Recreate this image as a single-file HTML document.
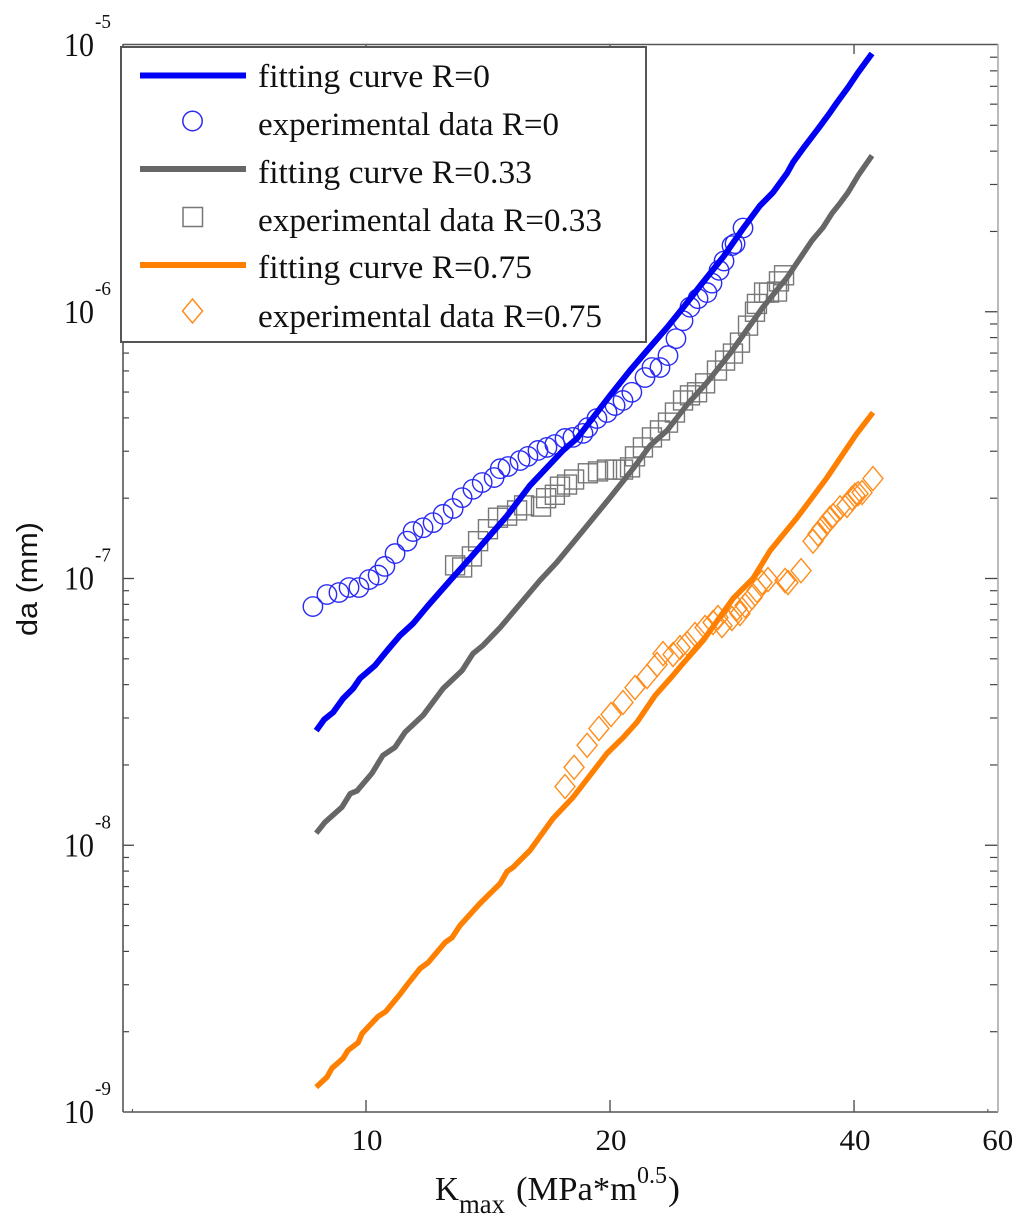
<!DOCTYPE html>
<html lang="en">
<head>
<meta charset="utf-8">
<title>Crack growth rate versus Kmax</title>
<style>
html,body{margin:0;padding:0;background:#fff;width:1024px;height:1223px;overflow:hidden}
svg{display:block}
text{font-family:"Liberation Serif",serif;fill:#111}
</style>
</head>
<body>
<svg id="chart" xmlns="http://www.w3.org/2000/svg" width="1024" height="1223" viewBox="0 0 1024 1223">
  <rect x="0" y="0" width="1024" height="1223" fill="#fff"/>
  <g id="ticks"></g>
  <g id="frame">
    <line x1="123" y1="44.5" x2="998" y2="44.5" stroke="#555" stroke-width="1.6"/>
    <line x1="123" y1="44" x2="123" y2="1112" stroke="#555" stroke-width="1.6"/>
    <line x1="123" y1="1112" x2="998" y2="1112" stroke="#555" stroke-width="1.6"/>
    <line x1="998" y1="44" x2="998" y2="1112" stroke="#aaa" stroke-width="1.6"/>
  </g>
  <g id="tick-labels"></g>
  <g id="series"></g>

  <text transform="translate(37,636) rotate(-90)" style="font-family:'Liberation Sans',sans-serif" font-size="29" textLength="114" lengthAdjust="spacingAndGlyphs">da (mm)</text>

  <g>
    <text x="435" y="1200" font-size="34" textLength="24" lengthAdjust="spacingAndGlyphs">K</text>
    <text x="459" y="1213" font-size="27" textLength="46" lengthAdjust="spacingAndGlyphs">max</text>
    <text x="516" y="1200" font-size="34" textLength="121" lengthAdjust="spacingAndGlyphs">(MPa*m</text>
    <text x="637" y="1183" font-size="24" textLength="30" lengthAdjust="spacingAndGlyphs">0.5</text>
    <text x="668" y="1200" font-size="34" textLength="12" lengthAdjust="spacingAndGlyphs">)</text>
  </g>

  <g>
    <rect x="121" y="47" width="525" height="295" fill="#fff" stroke="#555" stroke-width="2"/>
    <line x1="140" y1="75.5" x2="246" y2="75.5" stroke="#0000f5" stroke-width="6"/>
    <text x="258" y="87" font-size="33" textLength="232" lengthAdjust="spacingAndGlyphs">fitting curve R=0</text>
    <circle cx="192.5" cy="121" r="9.7" fill="none" stroke="#2a2af5" stroke-width="1.5"/>
    <text x="258" y="135" font-size="33" textLength="301" lengthAdjust="spacingAndGlyphs">experimental data R=0</text>
    <line x1="140" y1="169" x2="246" y2="169" stroke="#666" stroke-width="6"/>
    <text x="258" y="183" font-size="33" textLength="274" lengthAdjust="spacingAndGlyphs">fitting curve R=0.33</text>
    <rect x="183" y="207.5" width="19.5" height="19" fill="none" stroke="#777" stroke-width="1.5"/>
    <text x="258" y="231" font-size="33" textLength="344" lengthAdjust="spacingAndGlyphs">experimental data R=0.33</text>
    <line x1="140" y1="265" x2="246" y2="265" stroke="#ff8000" stroke-width="6"/>
    <text x="258" y="278" font-size="33" textLength="274" lengthAdjust="spacingAndGlyphs">fitting curve R=0.75</text>
    <polygon points="192.5,299 202.5,311 192.5,323 182.5,311" fill="none" stroke="#ff8c1a" stroke-width="1.5"/>
    <text x="258" y="327" font-size="33" textLength="344" lengthAdjust="spacingAndGlyphs">experimental data R=0.75</text>
  </g>
</svg>
<script>
// ---- Axis tick data ----
const xMajorTicks = [10, 20, 40];
const xLabelValues = [10, 20, 40, 60];
const xSmallTicks = [5.15, 58.5];
const yDecadeExponents = [-5, -6, -7, -8, -9];
const yMinorMantissas = [2, 3, 4, 5, 6, 7, 8, 9];

// ---- Fitting curves ----
const fitR0K  = [8.68, 8.88, 9.11, 9.37, 9.64, 9.83, 10.26, 10.62, 11.01, 11.43, 11.93, 12.70, 13.44, 14.22, 14.93, 15.93, 17.50, 18.21, 19.06, 20.00, 21.17, 22.22, 23.52, 24.89, 25.83, 27.57, 29.18, 30.62, 31.78, 33.06, 33.63, 34.60, 36.21, 37.36, 38.11, 39.32, 40.46, 42.09];
const fitR0Da = [2.69e-8, 2.96e-8, 3.15e-8, 3.55e-8, 3.87e-8, 4.22e-8, 4.72e-8, 5.37e-8, 6.11e-8, 6.78e-8, 7.92e-8, 9.83e-8, 1.19e-7, 1.45e-7, 1.72e-7, 2.23e-7, 3.02e-7, 3.35e-7, 4.01e-7, 4.85e-7, 6.02e-7, 7.16e-7, 8.73e-7, 1.08e-6, 1.25e-6, 1.60e-6, 2.05e-6, 2.50e-6, 2.80e-6, 3.30e-6, 3.63e-6, 4.09e-6, 4.90e-6, 5.58e-6, 6.09e-6, 6.93e-6, 7.89e-6, 9.29e-6];
const fitR033K  = [8.68, 8.90, 9.34, 9.56, 9.75, 10.17, 10.49, 10.86, 11.17, 11.76, 12.06, 12.45, 13.14, 13.55, 13.94, 14.64, 15.62, 16.39, 17.20, 18.52, 20.00, 21.35, 22.41, 23.52, 24.96, 26.34, 28.12, 30.88, 33.06, 35.50, 36.63, 37.57, 38.44, 39.32, 40.46, 42.09];
const fitR033Da = [1.11e-8, 1.22e-8, 1.39e-8, 1.56e-8, 1.60e-8, 1.86e-8, 2.17e-8, 2.33e-8, 2.65e-8, 3.07e-8, 3.40e-8, 3.87e-8, 4.52e-8, 5.23e-8, 5.61e-8, 6.55e-8, 8.27e-8, 9.83e-8, 1.15e-7, 1.51e-7, 2.01e-7, 2.58e-7, 3.15e-7, 3.59e-7, 4.53e-7, 5.43e-7, 6.97e-7, 1.04e-6, 1.34e-6, 1.85e-6, 2.07e-6, 2.34e-6, 2.55e-6, 2.80e-6, 3.24e-6, 3.85e-6];
const fitR075K  = [8.68, 8.95, 9.08, 9.37, 9.50, 9.78, 9.89, 10.35, 10.58, 11.01, 11.24, 11.66, 11.93, 12.52, 12.77, 13.06, 13.82, 14.64, 14.93, 15.18, 15.93, 17.01, 18.00, 19.83, 20.75, 21.59, 22.73, 23.85, 24.61, 26.05, 28.36, 30.02, 31.51, 34.02, 35.30, 37.04, 38.65, 40.23, 42.21];
const fitR075Da = [1.24e-9, 1.35e-9, 1.46e-9, 1.59e-9, 1.70e-9, 1.82e-9, 1.97e-9, 2.28e-9, 2.38e-9, 2.76e-9, 3.00e-9, 3.45e-9, 3.63e-9, 4.32e-9, 4.51e-9, 5.00e-9, 6.05e-9, 7.19e-9, 7.97e-9, 8.25e-9, 9.56e-9, 1.26e-8, 1.51e-8, 2.21e-8, 2.53e-8, 2.89e-8, 3.64e-8, 4.29e-8, 4.80e-8, 5.85e-8, 8.41e-8, 1.00e-7, 1.27e-7, 1.69e-7, 1.96e-7, 2.39e-7, 2.89e-7, 3.46e-7, 4.19e-7];

// ---- Experimental data ----
const expR0K  = [8.60, 8.95, 9.26, 9.53, 9.80, 10.09, 10.35, 10.55, 10.86, 11.24, 11.43, 11.76, 12.10, 12.45, 12.81, 13.14, 13.55, 13.91, 14.39, 14.64, 14.97, 15.49, 15.84, 16.30, 16.72, 17.10, 17.60, 18.00, 18.52, 18.78, 19.27, 19.83, 20.29, 20.75, 21.28, 22.09, 22.53, 23.05, 23.58, 24.12, 24.61, 25.10, 25.68, 26.34, 26.72, 27.26, 27.65, 28.28, 28.53, 29.18];
const expR0Da = [7.85e-8, 8.71e-8, 8.86e-8, 9.25e-8, 9.25e-8, 9.91e-8, 1.03e-7, 1.11e-7, 1.24e-7, 1.38e-7, 1.50e-7, 1.55e-7, 1.62e-7, 1.74e-7, 1.83e-7, 2.01e-7, 2.16e-7, 2.29e-7, 2.39e-7, 2.58e-7, 2.63e-7, 2.77e-7, 2.87e-7, 3.02e-7, 3.10e-7, 3.18e-7, 3.35e-7, 3.38e-7, 3.50e-7, 3.68e-7, 3.98e-7, 4.19e-7, 4.45e-7, 4.65e-7, 4.99e-7, 5.67e-7, 6.18e-7, 6.18e-7, 6.85e-7, 7.93e-7, 9.25e-7, 1.04e-6, 1.12e-6, 1.18e-6, 1.28e-6, 1.43e-6, 1.55e-6, 1.77e-6, 1.80e-6, 2.06e-6];
const expR033K  = [12.88, 13.14, 13.51, 13.75, 14.14, 14.55, 14.93, 15.36, 15.67, 16.44, 16.68, 17.10, 17.35, 17.70, 18.06, 18.78, 19.33, 19.83, 20.29, 20.75, 21.17, 21.47, 21.96, 22.53, 23.05, 23.58, 24.05, 24.61, 25.10, 25.61, 26.20, 27.10, 27.73, 28.36, 28.93, 29.60, 30.19, 30.36, 30.98, 31.42, 32.14, 32.32, 32.79];
const expR033Da = [1.12e-7, 1.10e-7, 1.21e-7, 1.38e-7, 1.53e-7, 1.69e-7, 1.72e-7, 1.80e-7, 1.88e-7, 1.86e-7, 2.00e-7, 2.06e-7, 2.21e-7, 2.25e-7, 2.35e-7, 2.48e-7, 2.52e-7, 2.56e-7, 2.56e-7, 2.56e-7, 2.61e-7, 2.87e-7, 3.10e-7, 3.38e-7, 3.59e-7, 3.84e-7, 4.19e-7, 4.65e-7, 4.86e-7, 4.99e-7, 5.39e-7, 6.02e-7, 6.56e-7, 6.97e-7, 7.66e-7, 8.87e-7, 1.00e-6, 1.07e-6, 1.18e-6, 1.18e-6, 1.19e-6, 1.30e-6, 1.37e-6];
const expR075K  = [17.60, 18.06, 18.74, 19.38, 20.06, 20.75, 21.47, 22.22, 22.86, 23.25, 23.92, 24.40, 24.89, 25.46, 26.20, 26.80, 27.18, 27.49, 28.28, 28.69, 28.93, 29.35, 29.94, 30.36, 30.80, 31.33, 32.88, 33.16, 34.41, 35.60, 36.11, 36.52, 37.04, 37.36, 37.68, 38.44, 39.21, 39.77, 40.11, 40.46, 40.92, 42.21];
const expR075Da = [1.66e-8, 1.96e-8, 2.37e-8, 2.74e-8, 3.09e-8, 3.43e-8, 3.90e-8, 4.29e-8, 4.76e-8, 5.23e-8, 5.19e-8, 5.51e-8, 5.71e-8, 6.17e-8, 6.55e-8, 6.84e-8, 7.14e-8, 6.66e-8, 7.08e-8, 7.72e-8, 7.39e-8, 7.92e-8, 8.49e-8, 9.02e-8, 9.66e-8, 9.91e-8, 9.83e-8, 9.66e-8, 1.07e-7, 1.38e-7, 1.47e-7, 1.54e-7, 1.62e-7, 1.68e-7, 1.72e-7, 1.84e-7, 1.88e-7, 2.00e-7, 2.05e-7, 2.08e-7, 2.10e-7, 2.37e-7];

// ---- Axis functions (log-log) ----
function xScale(k) {
  return 366 + 810.6 * Math.log10(k / 10);
}
function yScale(v) {
  return 45 + (-5 - Math.log10(v)) * 266.75;
}

const NS = 'http://www.w3.org/2000/svg';
const ticksGroup = document.getElementById('ticks');
const labelsGroup = document.getElementById('tick-labels');
const seriesGroup = document.getElementById('series');

function svgEl(tag, attrs, parent) {
  const el = document.createElementNS(NS, tag);
  for (const key in attrs) el.setAttribute(key, attrs[key]);
  parent.appendChild(el);
  return el;
}

function drawTick(x1, y1, x2, y2, width, name) {
  const el = svgEl('line', {x1: x1, y1: y1, x2: x2, y2: y2, stroke: '#444', 'stroke-width': width}, ticksGroup);
  
  
}

function drawLabel(text, x, y, size, length, name) {
  const el = svgEl('text', {x: x, y: y, 'font-size': size, textLength: length, lengthAdjust: 'spacingAndGlyphs'}, labelsGroup);
  el.textContent = text;
  
  
}

// X ticks
xMajorTicks.forEach(function (k) {
  const x = xScale(k);
  drawTick(x, 1112, x, 1100, 1.3, 'x-tick-bottom-' + k);
  drawTick(x, 44, x, 54, 1.3, 'x-tick-top-' + k);
});
xSmallTicks.forEach(function (k) {
  const x = xScale(k);
  drawTick(x, 1112, x, 1109, 1, 'x-minor-tick');
});
xLabelValues.forEach(function (k) {
  const x = Math.min(xScale(k), 998);
  drawLabel(String(k), x - 14.5, 1150, 30, 31, 'x-tick-label-' + k);
});

// Y ticks
yDecadeExponents.forEach(function (e) {
  const major = Math.pow(10, e);
  const y = yScale(major);
  if (e !== -5 && e !== -9) {
    drawTick(123, y, 134, y, 1.3, 'y-major-tick-left');
    drawTick(998, y, 985, y, 1.3, 'y-major-tick-right');
  }
  drawLabel('10', 64, y + 11, 34, 30, 'y-tick-label-base');
  drawLabel(String(e), 95, y - 17, 20, 16, 'y-tick-label-exponent');
  if (e !== -9) {
    yMinorMantissas.forEach(function (m) {
      const yMinor = yScale(m * Math.pow(10, e - 1));
      drawTick(123, yMinor, 129, yMinor, 1.2, 'y-minor-tick-left');
      drawTick(998, yMinor, 990, yMinor, 1.2, 'y-minor-tick-right');
    });
  }
});

// Series
function pathFrom(xs, ys) {
  return xs.map(function (k, i) {
    return (i ? 'L' : 'M') + xScale(k).toFixed(1) + ' ' + yScale(ys[i]).toFixed(1);
  }).join(' ');
}

function drawFit(xs, ys, color, width, name) {
  const el = svgEl('path', {d: pathFrom(xs, ys), fill: 'none', stroke: color, 'stroke-width': width, 'stroke-linejoin': 'round'}, seriesGroup);
  
  
}

function drawCircles(xs, ys) {
  xs.forEach(function (k, i) {
    const el = svgEl('circle', {cx: xScale(k), cy: yScale(ys[i]), r: 9.7, fill: 'none', stroke: '#2a2af5', 'stroke-width': 1.4}, seriesGroup);
    
    
  });
}

function drawSquares(xs, ys) {
  xs.forEach(function (k, i) {
    const el = svgEl('rect', {x: xScale(k) - 9.5, y: yScale(ys[i]) - 9.5, width: 19, height: 19, fill: 'none', stroke: '#777', 'stroke-width': 1.4}, seriesGroup);
    
    
  });
}

function drawDiamonds(xs, ys) {
  xs.forEach(function (k, i) {
    const cx = xScale(k);
    const cy = yScale(ys[i]);
    const pts = [cx, cy - 12, cx + 10, cy, cx, cy + 12, cx - 10, cy].join(' ');
    const el = svgEl('polygon', {points: pts, fill: 'none', stroke: '#ff8c1a', 'stroke-width': 1.4}, seriesGroup);
    
    
  });
}

drawCircles(expR0K, expR0Da);
drawSquares(expR033K, expR033Da);
drawDiamonds(expR075K, expR075Da);
drawFit(fitR033K, fitR033Da, '#666666', 5.5, 'fitting-curve-r033');
drawFit(fitR075K, fitR075Da, '#ff8000', 5.5, 'fitting-curve-r075');
drawFit(fitR0K, fitR0Da, '#0000f5', 6, 'fitting-curve-r0');
</script>
</body>
</html>
